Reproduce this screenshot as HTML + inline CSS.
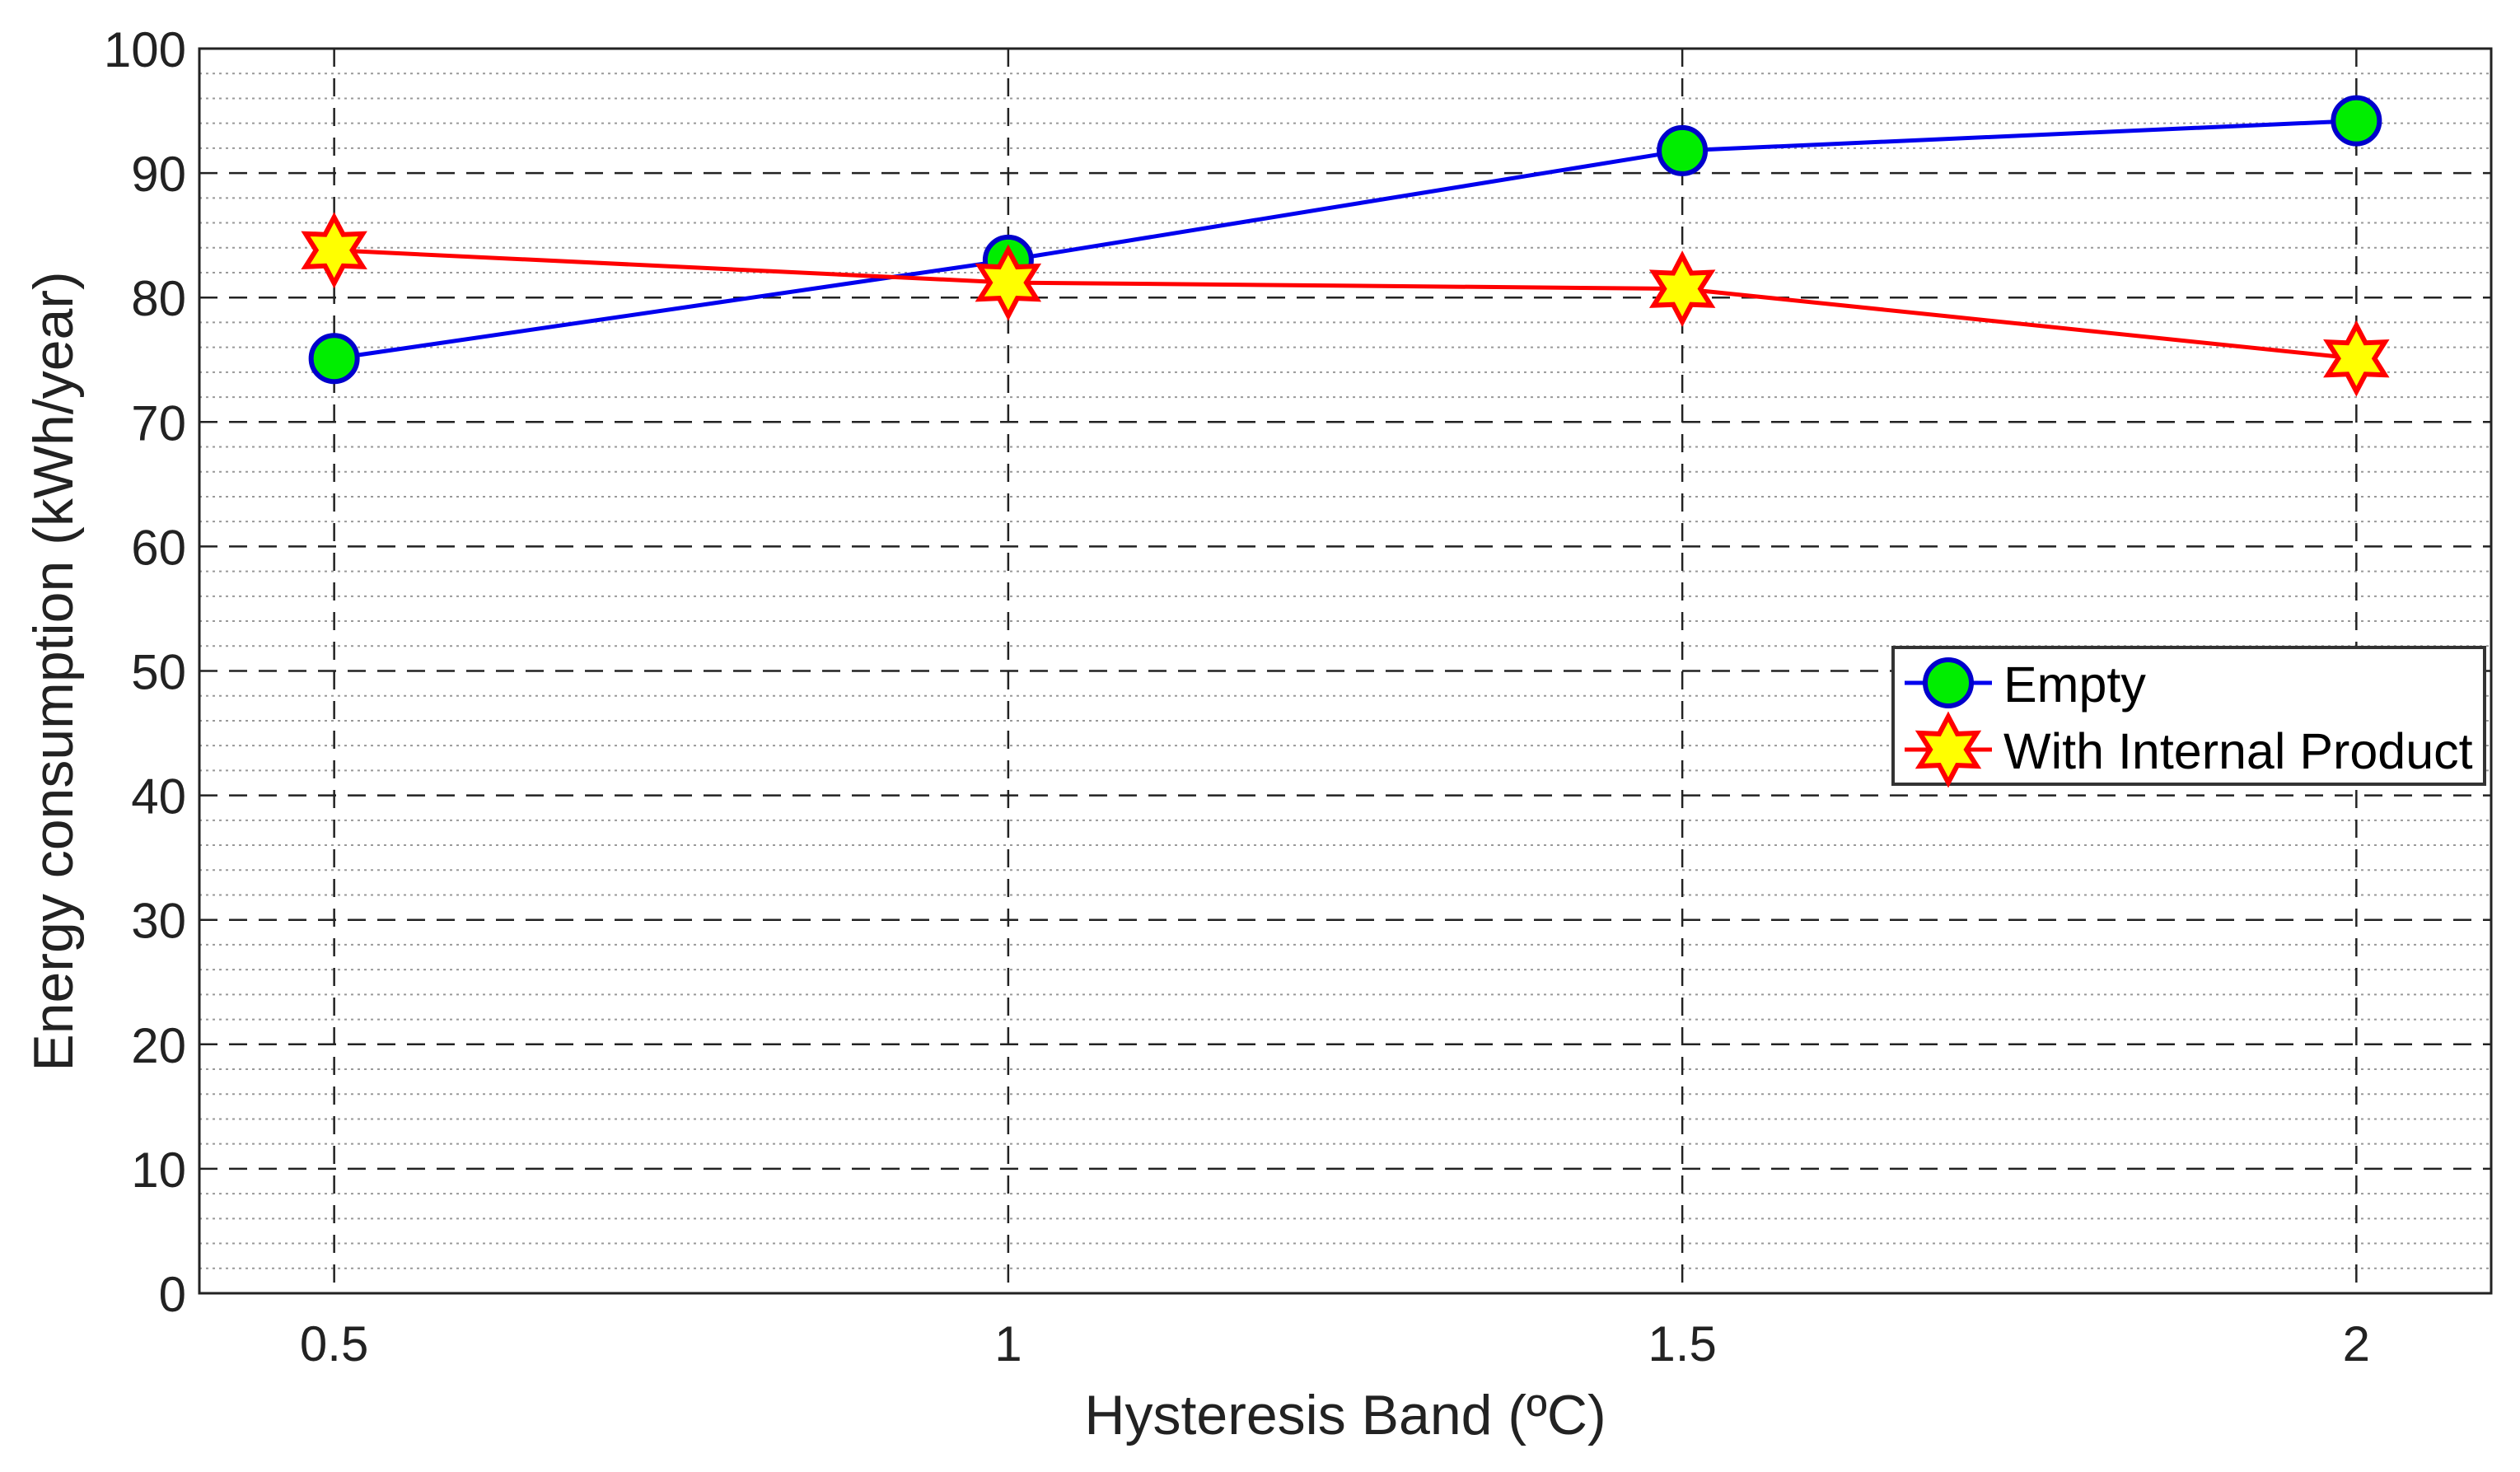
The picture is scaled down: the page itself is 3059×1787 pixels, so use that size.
<!DOCTYPE html>
<html><head><meta charset="utf-8"><style>
body{margin:0;background:#fff}
svg{display:block;font-family:"Liberation Sans",Arial,sans-serif}
</style></head><body>
<svg id="chart" width="3059" height="1787" viewBox="0 0 3059 1787" xmlns="http://www.w3.org/2000/svg">
<rect width="3059" height="1787" fill="#fff"/>
<g id="grid"></g>
<g id="axes"></g>
<g id="series"></g>
<text x="1633" y="1741" font-size="68" text-anchor="middle" fill="#222">Hysteresis Band (ºC)</text>
<text transform="translate(88,815) rotate(-90)" font-size="68" text-anchor="middle" fill="#222">Energy consumption (kWh/year)</text>
<g>
<rect x="2298" y="786" width="718" height="166" fill="#fff" stroke="#333" stroke-width="4"/>
<g>
<line x1="2312" y1="829" x2="2418" y2="829" stroke="#0000ee" stroke-width="5"/>
<circle cx="2365" cy="829" r="28" fill="#00ee00" stroke="#0000cc" stroke-width="6"/>
<text x="2432" y="852" font-size="61" fill="#000">Empty</text>
</g>
<g>
<line x1="2312" y1="910" x2="2418" y2="910" stroke="#ff0000" stroke-width="5"/>
<polygon id="legstar" fill="#ffff00" stroke="#ff0000" stroke-width="6"/>
<text x="2432" y="933" font-size="61" fill="#000">With Internal Product</text>
</g>
</g>
</svg>
<script>
const xCategories=[0.5,1,1.5,2];
const emptyValues=[75.1,83,91.8,94.2];
const productValues=[83.8,81.2,80.7,75.1];
const yTickLabels=[0,10,20,30,40,50,60,70,80,90,100];
const xTickLabels=["0.5","1","1.5","2"];

const NS="http://www.w3.org/2000/svg";
const L=242,R=3024,T=59,B=1570,XMIN=0.4,XMAX=2.1,YMIN=0,YMAX=100;
const xs=v=>L+(v-XMIN)/(XMAX-XMIN)*(R-L);
const ys=v=>B-(v-YMIN)/(YMAX-YMIN)*(B-T);
function mk(tag,attrs,parent){const e=document.createElementNS(NS,tag);for(const k in attrs)e.setAttribute(k,attrs[k]);parent.appendChild(e);return e;}
const grid=document.getElementById('grid'),axes=document.getElementById('axes'),series=document.getElementById('series');
for(let v=YMIN;v<=YMAX;v+=2){if(v%10===0)continue;
 const l=mk('line',{x1:L,x2:R,y1:ys(v),y2:ys(v),stroke:'#999','stroke-width':2,'stroke-dasharray':'3 5'},grid);
 
 }
yTickLabels.forEach(v=>{
 if(v>YMIN&&v<YMAX){const l=mk('line',{x1:L,x2:R,y1:ys(v),y2:ys(v),stroke:'#222','stroke-width':2.5,'stroke-dasharray':'22 14'},grid);
 
 }
 const t=mk('text',{x:L-16,y:ys(v)+22,'font-size':60,'text-anchor':'end',fill:'#222'},axes);t.textContent=v;
 
 
});
xCategories.forEach((c,i)=>{
 const l=mk('line',{x1:xs(c),x2:xs(c),y1:T,y2:B,stroke:'#222','stroke-width':2.5,'stroke-dasharray':'22 14'},grid);
 
 
 const t=mk('text',{x:xs(c),y:B+82,'font-size':60,'text-anchor':'middle',fill:'#222'},axes);t.textContent=xTickLabels[i];
 
 
});
const frame=mk('rect',{x:L,y:T,width:R-L,height:B-T,fill:'none',stroke:'#222','stroke-width':3},axes);


function starPts(cx,cy,ro,ri){let p=[];for(let k=0;k<12;k++){const a=-Math.PI/2+k*Math.PI/6;const r=k%2?ri:ro;p.push((cx+r*Math.cos(a)).toFixed(1)+','+(cy+r*Math.sin(a)).toFixed(1));}return p.join(' ');}
document.getElementById('legstar').setAttribute('points',starPts(2365,910,40,22));
const l1=mk('polyline',{points:xCategories.map((c,i)=>xs(c)+','+ys(emptyValues[i])).join(' '),fill:'none',stroke:'#0000ee','stroke-width':5},series);


const l2=mk('polyline',{points:xCategories.map((c,i)=>xs(c)+','+ys(productValues[i])).join(' '),fill:'none',stroke:'#ff0000','stroke-width':5},series);


xCategories.forEach((c,i)=>{
 const m=mk('circle',{cx:xs(c),cy:ys(emptyValues[i]),r:28,fill:'#00ee00',stroke:'#0000cc','stroke-width':6},series);
 
 
});
xCategories.forEach((c,i)=>{
 const s=mk('polygon',{points:starPts(xs(c),ys(productValues[i]),40,22),fill:'#ffff00',stroke:'#ff0000','stroke-width':6},series);
 
 
});
</script>
</body></html>
